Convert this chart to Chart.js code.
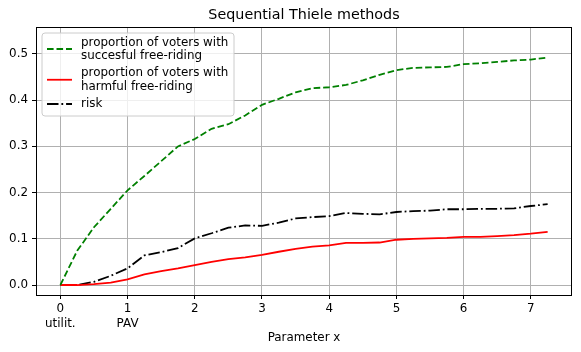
<!DOCTYPE html>
<html>
<head>
<meta charset="utf-8">
<script src="https://cdn.jsdelivr.net/npm/chart.js@4/dist/chart.umd.min.js"></script>
<style>
html,body{margin:0;padding:0;background:#fff;}
#wrap{width:581px;height:352px;position:relative;}
</style>
</head>
<body>
<div id="wrap"><canvas id="c" width="581" height="352"></canvas></div>
<script>
const xValues = [0,0.25,0.5,0.75,1,1.25,1.5,1.75,2,2.25,2.5,2.75,3,3.25,3.5,3.75,4,4.25,4.5,4.75,5,5.25,5.5,5.75,6,6.25,6.5,6.75,7,7.25];
const successful = [0,0.074,0.125,0.165,0.205,0.236,0.268,0.300,0.316,0.338,0.348,0.367,0.390,0.403,0.417,0.426,0.428,0.433,0.443,0.455,0.465,0.470,0.471,0.472,0.478,0.480,0.483,0.486,0.488,0.492];
const harmful = [0,0,0.002,0.005,0.012,0.023,0.030,0.036,0.043,0.050,0.056,0.060,0.065,0.072,0.078,0.083,0.086,0.091,0.091,0.092,0.098,0.100,0.101,0.102,0.104,0.104,0.106,0.108,0.111,0.115];
const risk = [0,0,0.007,0.020,0.036,0.064,0.071,0.080,0.101,0.112,0.124,0.129,0.128,0.135,0.144,0.147,0.149,0.156,0.154,0.153,0.158,0.160,0.161,0.164,0.164,0.165,0.165,0.166,0.171,0.175];
const xTickValues = [0,1,2,3,4,5,6,7];
const xTickNames = ["utilit.","PAV","","","","","",""];
const yTickValues = [0,0.1,0.2,0.3,0.4,0.5];
const seriesNames = [["proportion of voters with","succesful free-riding"],["proportion of voters with","harmful free-riding"],["risk"]];
const titleText = "Sequential Thiele methods";
const xTitle = "Parameter x";

const FONT = "'DejaVu Sans', sans-serif";
const TICK = 11.9;
const LW = 1.79;

function pts(ys){ return xValues.map((x,i)=>({x:x,y:ys[i]})); }

const overlay = {
  id:'overlay',
  afterDraw(chart){
    const ctx = chart.ctx, a = chart.chartArea;
    ctx.save();
    ctx.strokeStyle = '#000'; ctx.lineWidth = 1;
    ctx.strokeRect(Math.round(a.left)+0.5, Math.round(a.top)+0.5, Math.round(a.right-a.left)-1, Math.round(a.bottom-a.top));
    ctx.fillStyle = '#000';
    ctx.font = `14.3px ${FONT}`;
    ctx.textAlign = 'center'; ctx.textBaseline = 'middle';
    ctx.fillText(titleText, (a.left+a.right)/2, 15);
    const lx = 42, ly = 33, lw = 192, lh = 83, r = 3;
    ctx.beginPath();
    ctx.moveTo(lx+r, ly); ctx.lineTo(lx+lw-r, ly); ctx.quadraticCurveTo(lx+lw, ly, lx+lw, ly+r);
    ctx.lineTo(lx+lw, ly+lh-r); ctx.quadraticCurveTo(lx+lw, ly+lh, lx+lw-r, ly+lh);
    ctx.lineTo(lx+r, ly+lh); ctx.quadraticCurveTo(lx, ly+lh, lx, ly+lh-r);
    ctx.lineTo(lx, ly+r); ctx.quadraticCurveTo(lx, ly, lx+r, ly);
    ctx.closePath();
    ctx.fillStyle = 'rgba(255,255,255,0.8)'; ctx.fill();
    ctx.strokeStyle = '#cccccc'; ctx.lineWidth = 1; ctx.stroke();
    const rows = [[42.5,55.5],[73,86.5],[104]];
    ctx.font = `${TICK}px ${FONT}`;
    ctx.textAlign = 'left'; ctx.textBaseline = 'middle';
    chart.data.datasets.forEach((ds,i)=>{
      const ys = rows[i];
      const hy = (ys[0]+ys[ys.length-1])/2;
      ctx.beginPath();
      ctx.setLineDash(ds.borderDash || []);
      ctx.strokeStyle = ds.borderColor; ctx.lineWidth = ds.borderWidth;
      ctx.moveTo(47, hy); ctx.lineTo(72, hy); ctx.stroke();
      ctx.setLineDash([]);
      ctx.fillStyle = '#000';
      seriesNames[i].forEach((t,j)=>ctx.fillText(t, 81, ys[j]));
    });
    ctx.restore();
  }
};

new Chart(document.getElementById('c'), {
  type:'line',
  data:{
    datasets:[
      {label:seriesNames[0].join(' '), data:pts(successful), borderColor:'#008000', borderWidth:LW, borderDash:[6.6,2.9], pointRadius:0, tension:0, fill:false},
      {label:seriesNames[1].join(' '), data:pts(harmful), borderColor:'#ff0000', borderWidth:LW, pointRadius:0, tension:0, fill:false},
      {label:seriesNames[2][0], data:pts(risk), borderColor:'#000000', borderWidth:LW, borderDash:[11.5,2.9,1.8,2.9], pointRadius:0, tension:0, fill:false}
    ]
  },
  options:{
    responsive:false, animation:false, devicePixelRatio:1,
    layout:{padding:{left:0,right:9,top:27,bottom:0}},
    plugins:{legend:{display:false}, title:{display:false}, tooltip:{enabled:false}},
    scales:{
      x:{type:'linear', min:-0.3625, max:7.6125,
        afterBuildTicks(s){ s.ticks = xTickValues.map(v=>({value:v})); },
        afterFit(s){ s.height = 57; },
        ticks:{font:{family:FONT,size:TICK}, color:'#000', padding:3, maxRotation:0, autoSkip:false,
          callback(v){ const i = xTickValues.indexOf(v); return (i>=0 && xTickNames[i]) ? [String(v), xTickNames[i]] : String(v); }},
        grid:{color:'#b0b0b0', lineWidth:1, tickColor:'#000', tickLength:4},
        border:{display:false},
        title:{display:true, text:xTitle, font:{family:FONT,size:TICK}, color:'#000', padding:{top:0,bottom:7}}
      },
      y:{type:'linear', min:-0.0216, max:0.5584,
        afterBuildTicks(s){ s.ticks = yTickValues.map(v=>({value:v})); },
        afterFit(s){ s.width = 36; },
        ticks:{font:{family:FONT,size:TICK}, color:'#000', padding:4, callback(v){ return v.toFixed(1); }},
        grid:{color:'#b0b0b0', lineWidth:1, tickColor:'#000', tickLength:4},
        border:{display:false}
      }
    }
  },
  plugins:[overlay]
});
</script>
</body>
</html>
